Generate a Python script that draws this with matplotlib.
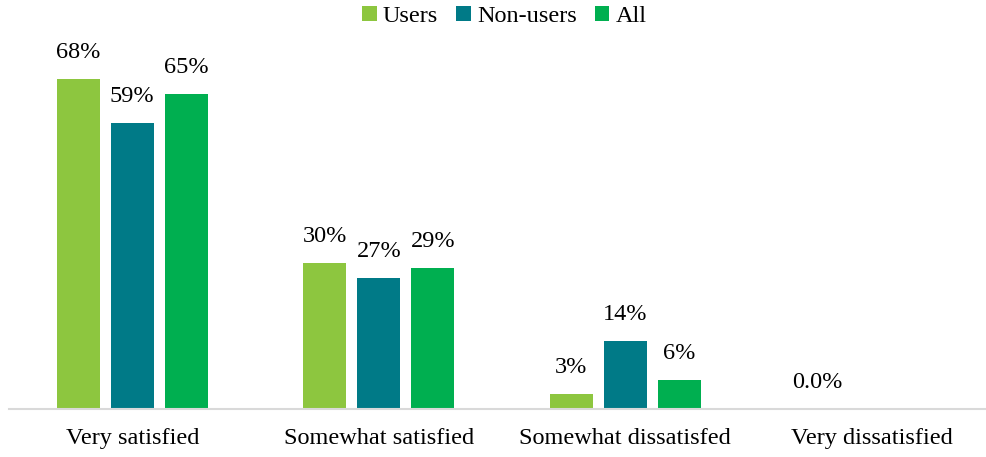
import numpy as np
import matplotlib.pyplot as plt

categories = ['Very satisfied', 'Somewhat satisfied', 'Somewhat dissatisfed', 'Very dissatisfied']
users = [68, 30, 3, 0]
non_users = [59, 27, 14, np.nan]
all_resp = [65, 29, 6, np.nan]

plt.rcParams['font.family'] = ['Liberation Serif', 'DejaVu Serif']

fig = plt.figure(figsize=(9.87, 4.57), dpi=100)
ax = fig.add_axes([9 / 987, 48 / 457, 986 / 987, 364 / 457])

x = np.arange(len(categories))
w = 0.175
step = 0.219
series = [('Users', users, '#8DC63F'),
          ('Non-users', non_users, '#007A87'),
          ('All', all_resp, '#00AF50')]

for i, (name, vals, col) in enumerate(series):
    pos = x + (i - 1) * step
    vals = np.array(vals, dtype=float)
    ax.bar(pos, vals, width=w, color=col, label=name)
    for p, v in zip(pos, vals):
        if np.isnan(v):
            continue
        txt = '0.0%' if v == 0 else f'{v:.0f}%'
        ax.text(p, v + 3.3, txt, ha='center', va='bottom', fontsize=17.5)

ax.set_xlim(-0.5, 3.5)
ax.set_ylim(0, 75)
ax.set_xticks(x)
ax.set_xticklabels(categories, fontsize=17.5)
ax.tick_params(axis='x', length=0, pad=14)
ax.set_yticks([])
for s in ['top', 'right', 'left']:
    ax.spines[s].set_visible(False)
ax.spines['bottom'].set_color('#D9D9D9')
ax.spines['bottom'].set_linewidth(1.5)

fig.legend(loc='upper center', bbox_to_anchor=(0.511, 1.035), ncol=3, frameon=False,
           fontsize=17.5, handlelength=0.6, handleheight=0.6, handletextpad=0.25,
           columnspacing=0.75)

fig.savefig('out.png', dpi=100)
